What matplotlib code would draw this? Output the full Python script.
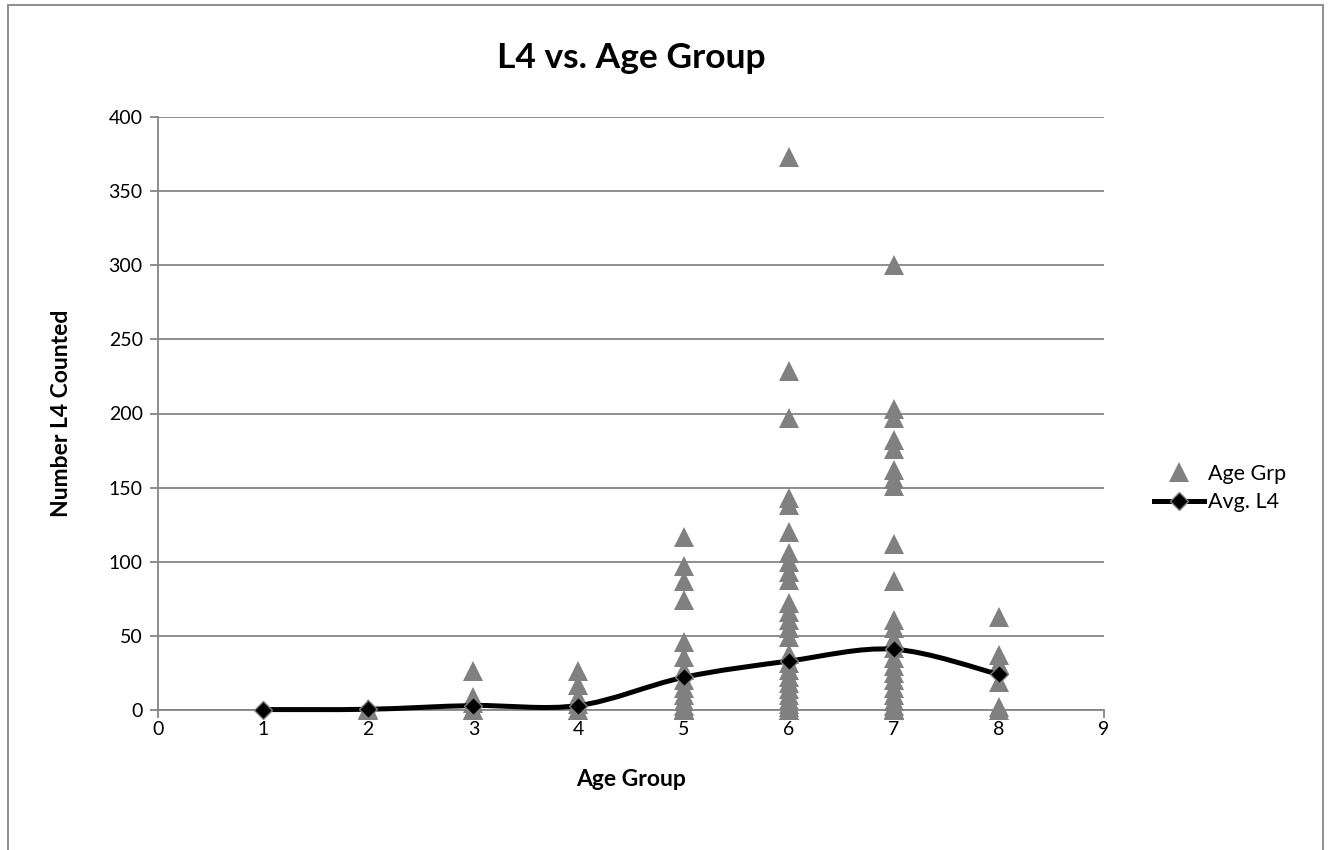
import matplotlib
matplotlib.use("Agg")
import matplotlib.pyplot as plt
from matplotlib.path import Path
from matplotlib.patches import PathPatch, Rectangle
from matplotlib.lines import Line2D
import numpy as np

plt.rcParams['font.family'] = ['Lato', 'DejaVu Sans']

# ---- data ----
title = "L4 vs. Age Group"
x_label = "Age Group"
y_label = "Number L4 Counted"
scatter_label = "Age Grp"
avg_label = "Avg. L4"

grp2 = [0, 1]
grp3 = [26, 9, 5, 0, 0, 0]
grp4 = [26, 17, 9, 4, 0, 0]
grp5 = [117, 97, 87, 74, 46, 36, 27, 20, 15, 10, 6, 3, 1, 0, 0]
grp6 = [373, 229, 197, 143, 138, 120, 106, 100, 93, 88, 72, 66, 61, 55, 49,
        38, 32, 27, 22, 18, 14, 10, 7, 4, 2, 0, 0]
grp7 = [300, 203, 197, 182, 176, 162, 156, 151, 112, 87, 61, 55, 48, 42, 35,
        30, 25, 20, 15, 10, 6, 3, 1, 0, 0]
grp8 = [63, 37, 31, 19, 2, 0]
groups = {2: grp2, 3: grp3, 4: grp4, 5: grp5, 6: grp6, 7: grp7, 8: grp8}

avg_x = [1, 2, 3, 4, 5, 6, 7, 8]
avg_y = [0.3, 0.5, 3, 3, 22, 33, 41, 24]

x_ticks = list(range(0, 10))
y_ticks = list(range(0, 401, 50))

# ---- figure ----
W, H = 1328, 850
fig = plt.figure(figsize=(W / 100, H / 100), dpi=100)
ax = fig.add_axes([158 / W, 1 - 710 / H, (1104 - 158) / W, (710 - 117) / H])

grid_c = '#868686'
# chart-area border
fig.patches.append(Rectangle((8 / W, -0.05), (1323 - 8) / W, 1.05 - 5 / H,
                             transform=fig.transFigure, fill=False,
                             edgecolor=grid_c, linewidth=1.3))

# scatter
sx, sy = [], []
for g, vals in groups.items():
    sx += [g] * len(vals)
    sy += vals
ax.plot(sx, sy, linestyle='none', marker='^', markersize=14.5,
        color='#808080', markeredgewidth=0, zorder=3, clip_on=False)

# smoothed line (Bezier through the averages)
P = np.column_stack([avg_x, avg_y]).astype(float)
n = len(P)
verts = [P[0]]
codes = [Path.MOVETO]
for i in range(n - 1):
    p0 = P[i - 1] if i > 0 else P[i]
    p1 = P[i]
    p2 = P[i + 1]
    p3 = P[i + 2] if i + 2 < n else P[i + 1]
    c1 = p1 + (p2 - p0) / 6
    c2 = p2 - (p3 - p1) / 6
    verts += [c1, c2, p2]
    codes += [Path.CURVE4] * 3
ax.add_patch(PathPatch(Path(verts, codes), facecolor='none', edgecolor='black',
                       linewidth=3.6, zorder=4, capstyle='round', joinstyle='round',
                       clip_on=False))
ax.plot(avg_x, avg_y, linestyle='none', marker='D', markersize=9,
        markerfacecolor='black', markeredgecolor='#7f7f7f', markeredgewidth=1.0,
        zorder=5, clip_on=False)

# axes
ax.set_xlim(0, 9)
ax.set_ylim(0, 400)
ax.set_xticks(x_ticks)
ax.set_yticks(y_ticks)
ax.grid(axis='y', color=grid_c, linewidth=1.3)
ax.set_axisbelow(True)
for s in ['top', 'right']:
    ax.spines[s].set_visible(False)
for s in ['left', 'bottom']:
    ax.spines[s].set_color(grid_c)
    ax.spines[s].set_linewidth(1.3)
ax.tick_params(axis='both', colors=grid_c, length=6, width=1.3, direction='out',
               labelsize=14, labelcolor='black')
ax.tick_params(axis='y', pad=5)
ax.tick_params(axis='x', pad=2)

ax.set_title(title, fontsize=25.5, fontweight='bold', pad=35)
ax.set_xlabel(x_label, fontsize=16.5, fontweight='bold', labelpad=22)
ax.set_ylabel(y_label, fontsize=16.5, fontweight='bold', labelpad=26)

# legend
h1 = Line2D([], [], linestyle='none', marker='^', markersize=14.5,
            color='#808080', markeredgewidth=0)
h2 = Line2D([], [], color='black', linewidth=3.6, marker='D', markersize=9,
            markerfacecolor='black', markeredgecolor='#7f7f7f', markeredgewidth=1.0)
fig.legend([h1, h2], [scatter_label, avg_label], loc='center left',
           bbox_to_anchor=(1135 / W, 1 - 488 / H), frameon=False, fontsize=15.5,
           handlelength=2.3, handletextpad=0.2, labelspacing=0.4)

fig.savefig("out.png", dpi=100)
